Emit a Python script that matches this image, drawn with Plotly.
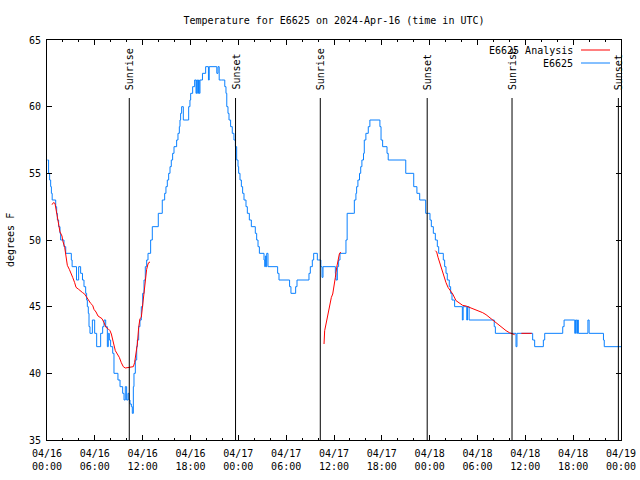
import plotly.graph_objects as go
import pandas as pd

BASE = pd.Timestamp("2024-04-16 00:00")

# Observed station temperature (hours since 04/16 00:00 UTC, degrees F)
obs_hours = [0.05, 0.20, 0.33, 0.46, 0.55, 0.65, 1.09, 1.21, 1.30, 1.46, 1.63, 1.71, 2.13, 2.35,
             3.05, 3.15, 3.70, 3.97, 4.22, 4.45, 4.64, 4.85, 4.97, 5.06, 5.18, 5.27, 5.39, 5.69,
             5.98, 6.23, 6.73, 6.98, 7.15, 7.36, 7.57, 7.69, 7.82, 7.98, 8.24, 8.40, 8.90, 9.16,
             9.49, 9.66, 9.82, 9.99, 10.16, 10.28, 10.41, 10.58, 10.70, 10.83, 10.91, 11.08,
             11.25, 11.33, 11.50, 11.66, 11.83, 12.00, 12.17, 12.33, 12.50, 12.67, 13.00, 13.21,
             13.96, 14.46, 14.76, 14.92, 15.09, 15.26, 15.43, 15.59, 15.76, 15.93, 16.26, 16.43,
             16.60, 16.68, 16.76, 16.89, 17.10, 17.77, 17.93, 18.02, 18.27, 18.52, 18.69, 18.77,
             18.90, 19.00, 19.10, 19.19, 19.50, 19.90, 20.25, 20.35, 21.30, 21.45, 21.60, 21.90,
             22.30, 22.45, 22.55, 22.70, 22.83, 23.03, 23.24, 23.45, 23.63, 23.79, 23.96, 24.04,
             24.21, 24.38, 24.54, 24.71, 24.96, 25.13, 25.38, 25.63, 26.13, 26.30, 26.47, 26.64,
             27.22, 27.31, 27.39, 27.48, 27.56, 27.72, 28.93, 29.10, 30.43, 30.60, 31.19, 31.36,
             32.86, 33.03, 33.28, 33.45, 33.91, 34.08, 34.35, 34.50, 34.62, 36.17, 36.25, 36.42,
             36.58, 36.75, 37.50, 37.65, 38.40, 38.55, 38.75, 38.84, 39.00, 39.20, 39.35, 39.50,
             39.70, 39.80, 40.00, 40.30, 40.50, 41.76, 41.90, 42.10, 42.65, 42.80, 45.00, 46.00,
             46.40, 46.75, 47.50, 47.71, 48.04, 48.21, 48.46, 48.71, 48.96, 49.13, 49.71, 49.88,
             50.05, 50.21, 50.46, 50.63, 50.80, 51.13, 52.10, 52.20, 52.65, 52.75, 52.95, 56.10,
             56.24, 58.83, 58.95, 60.92, 61.17, 62.26, 62.43, 64.69, 64.86, 66.20, 66.30, 66.45,
             66.55, 66.65, 67.85, 68.00, 69.80, 69.90, 72.00]
obs_temps = [56, 55, 54.5, 54, 53.5, 53, 52.5, 52, 51.5, 51, 50.5, 50, 49.5, 49,
             48.5, 48, 47, 48, 47.5, 47, 46.5, 46, 45.5, 45, 44.5, 43.5, 43, 44,
             43, 42, 43, 43.5, 44, 43.5, 42, 43, 42.5, 42, 41.5, 40, 39.5, 39,
             38.5, 38, 39, 38, 38.5, 38, 37.7, 37.5, 37, 39, 40, 41,
             42, 42.5, 43.5, 44, 45, 46, 47, 48, 48.5, 49, 50, 51,
             52, 53, 53.5, 54, 54.5, 55, 55.5, 56, 56.5, 57, 57.5, 58,
             58.5, 59, 59.5, 60, 59, 60, 60.5, 61, 61.5, 62, 61, 62,
             61, 62, 61, 62, 62.5, 63, 62, 63, 62.5, 63, 62, 62,
             61.5, 61, 60, 59.5, 59, 58.5, 58, 57.5, 57, 56, 55.5, 55,
             54.5, 54, 53.5, 53, 52.5, 52, 51.5, 51, 50.5, 50, 49.5, 49,
             48.5, 48, 48.8, 48, 49, 48, 47.5, 47, 46.5, 46, 46.5, 47,
             47.5, 48, 48.5, 49, 48.5, 48.5, 48, 47.2, 48, 47.5, 47, 48,
             48.5, 49, 50, 52, 52, 53, 53.5, 54, 54.5, 55, 55.5, 56,
             56.5, 57.5, 58, 58.5, 59, 58.5, 57.5, 57, 56.5, 56, 55, 54,
             53.5, 53, 52, 52, 51.5, 51, 50.5, 50, 49.5, 49, 48.5, 48,
             47.5, 47, 46.5, 46, 45.5, 45, 44, 45, 44, 45, 44, 43.5,
             43, 42, 43, 42.5, 42, 42.5, 43, 43.5, 44, 43, 44, 43,
             44, 43, 44, 43, 42.5, 42, 42]

# Analysis series (None separates segments)
ana_hours = [0.63, 0.80, 1.00, 1.21, 1.46, 1.63, 1.88, 1.97, 2.22, 2.38, 2.55, 2.80, 2.97, 3.22,
             3.47, 3.64, 3.97, 4.22, 4.47, 4.72, 4.97, 5.22, 5.47, 5.73, 5.89, 6.15, 6.40, 6.65,
             6.90, 7.15, 7.40, 7.65, 7.90, 8.07, 8.24, 8.40, 8.57, 8.82, 9.07, 9.32, 9.57, 9.82,
             10.32, 10.83, 10.99, 11.16, 11.33, 11.50, 11.66, 11.83, 12.00, 12.17, 12.33, 12.50,
             12.67, 12.75, 12.92, None,
             34.75, 34.83, 35.00, 35.17, 35.33, 35.50, 35.67, 35.84, 36.00, 36.17, 36.34, 36.50,
             36.67, 36.84, None,
             48.71, 48.88, 49.05, 49.30, 49.55, 49.80, 50.05, 50.30, 50.64, 50.89, 51.31, 51.72,
             52.14, 52.56, 52.98, 53.39, 53.81, 54.23, 54.65, 55.07, 55.49, 55.90, 56.32, 56.74,
             57.16, 57.58, 58.00, 58.41, 58.66, None,
             59.50, 60.80]
ana_temps = [52.65, 52.8, 52.75, 51.95, 51.2, 50.6, 50.3, 49.95, 49.45, 48.7, 48.1, 47.8, 47.6, 47.2,
             46.8, 46.45, 46.3, 46.15, 46.05, 45.95, 45.7, 45.5, 45.25, 45.1, 44.8, 44.6, 44.3, 44.2,
             44.1, 43.8, 43.45, 43.35, 43.2, 42.95, 42.45, 42.1, 41.7, 41.45, 41.2, 40.8, 40.5, 40.4,
             40.45, 40.5, 40.8, 41.45, 42.2, 43.45, 44.1, 44.2, 45.1, 45.95, 46.95, 47.8,
             48.2, 48.3, 48.35, None,
             42.2, 43.2, 43.7, 44.2, 44.8, 45.2, 45.7, 45.95, 46.45, 47.2, 47.95, 48.45,
             48.95, 49.1, None,
             49.2, 49.1, 48.7, 48.2, 47.7, 47.2, 46.8, 46.45, 46.2, 45.95, 45.45, 45.25,
             45.1, 45.05, 44.95, 44.9, 44.8, 44.7, 44.55, 44.4, 44.2, 44.0, 43.75, 43.55,
             43.35, 43.2, 43.05, 42.95, 42.9, None,
             43.0, 43.0]

sun_hours = [10.32, 23.65, 34.28, 47.69, 58.33, 71.67]
sun_labels = ["Sunrise", "Sunset", "Sunrise", "Sunset", "Sunrise", "Sunset"]

tick_hours = [0, 6, 12, 18, 24, 30, 36, 42, 48, 54, 60, 66, 72]
tick_labels = ["04/16<br>00:00", "04/16<br>06:00", "04/16<br>12:00", "04/16<br>18:00",
               "04/17<br>00:00", "04/17<br>06:00", "04/17<br>12:00", "04/17<br>18:00",
               "04/18<br>00:00", "04/18<br>06:00", "04/18<br>12:00", "04/18<br>18:00",
               "04/19<br>00:00"]
minor_hours = list(range(0, 73, 2))

legend_names = ["E6625 Analysis", "E6625"]
RED = "#ff0000"
BLUE = "#0a80ff"
FONT = "DejaVu Sans Mono"


def to_time(hours):
    return [None if h is None else BASE + pd.Timedelta(hours=h) for h in hours]


fig = go.Figure()
fig.add_trace(go.Scatter(x=to_time(obs_hours), y=obs_temps, mode="lines",
                         line=dict(color=BLUE, width=1, shape="hv"), name=legend_names[1],
                         showlegend=False))
fig.add_trace(go.Scatter(x=to_time(ana_hours), y=ana_temps, mode="lines",
                         line=dict(color=RED, width=1), name=legend_names[0],
                         connectgaps=False, showlegend=False))

for h, lab in zip(sun_hours, sun_labels):
    t = BASE + pd.Timedelta(hours=h)
    fig.add_shape(type="line", xref="x", yref="y", x0=t, x1=t, y0=35, y1=60.65,
                  line=dict(color="black", width=1))
    fig.add_annotation(x=t, y=61.1, xref="x", yref="y", text=lab, textangle=-90,
                       showarrow=False, xanchor="center", yanchor="bottom",
                       font=dict(family=FONT, size=10, color="black"))

# gnuplot-style legend: text on the left, sample line on the right
for i, (name, col) in enumerate(zip(legend_names, [RED, BLUE])):
    ypx = 50 + 13 * i
    yp = 1 - (ypx - 40) / 400
    fig.add_annotation(x=(575 - 47) / 574, y=yp, xref="paper", yref="paper", text=name,
                       showarrow=False, xanchor="right", yanchor="middle",
                       font=dict(family=FONT, size=10, color="black"))
    fig.add_shape(type="line", xref="paper", yref="paper",
                  x0=(581 - 47) / 574, x1=(610 - 47) / 574, y0=yp, y1=yp,
                  line=dict(color=col, width=1))

fig.add_annotation(x=(10 - 47) / 574, y=0.5, xref="paper", yref="paper", text="degrees F",
                   textangle=-90, showarrow=False, xanchor="center", yanchor="middle",
                   font=dict(family=FONT, size=10, color="black"))

fig.update_layout(
    width=640, height=480,
    margin=dict(l=47, r=19, t=40, b=40, autoexpand=False),
    paper_bgcolor="white", plot_bgcolor="white",
    font=dict(family=FONT, size=10, color="black"),
    title=dict(text="Temperature for E6625 on 2024-Apr-16 (time in UTC)", x=(334) / 640,
               xanchor="center", y=1 - 20 / 480, yanchor="middle",
               font=dict(family=FONT, size=10, color="black")),
    showlegend=False,
)
fig.update_xaxes(
    range=[BASE, BASE + pd.Timedelta(hours=72)], automargin=False,
    tickmode="array", tickvals=to_time(tick_hours), ticktext=tick_labels,
    ticks="inside", ticklen=5, tickcolor="black", tickwidth=1, ticklabelstandoff=4,
    minor=dict(tickmode="array", tickvals=to_time(minor_hours), ticks="inside", ticklen=2,
               tickcolor="black", tickwidth=1, showgrid=False),
    showline=True, linecolor="black", linewidth=1, mirror="allticks",
    showgrid=False, zeroline=False,
    tickfont=dict(family=FONT, size=10, color="black"),
)
fig.update_yaxes(
    range=[35, 65], tickmode="linear", tick0=35, dtick=5, automargin=False,
    ticks="inside", ticklen=5, tickcolor="black", tickwidth=1, ticklabelstandoff=3,
    showline=True, linecolor="black", linewidth=1, mirror="allticks",
    showgrid=False, zeroline=False,
    tickfont=dict(family=FONT, size=10, color="black"),
)

fig.write_html("out.html", config={"displayModeBar": False},
               post_script="document.body.style.margin='0';")
